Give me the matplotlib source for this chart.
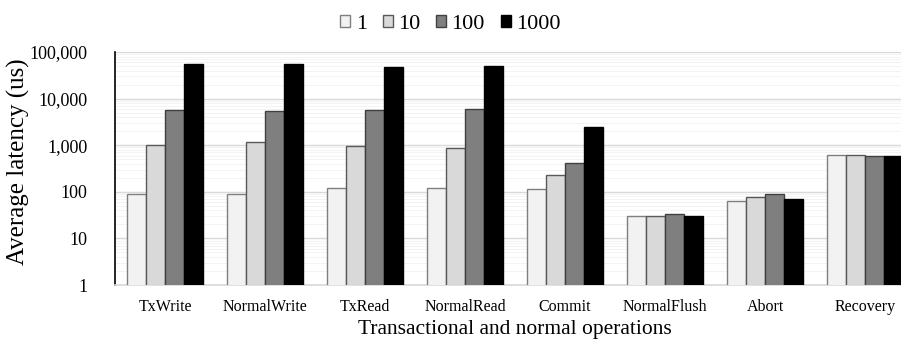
import matplotlib
matplotlib.use("Agg")
import matplotlib.pyplot as plt
import matplotlib.ticker as mticker
import numpy as np

# operations and latency (us) per batch size
operations = ["TxWrite", "NormalWrite", "TxRead", "NormalRead", "Commit",
              "NormalFlush", "Abort", "Recovery"]
series_labels = ["1", "10", "100", "1000"]
lat_1 = [90, 90, 120, 120, 113, 31, 65, 620]
lat_10 = [1000, 1150, 950, 850, 230, 30, 78, 610]
lat_100 = [5700, 5500, 5800, 6000, 408, 33, 88, 590]
lat_1000 = [55000, 54000, 48000, 49000, 2500, 30, 70, 590]
y_ticks = [1, 10, 100, 1000, 10000, 100000]

plt.rcParams['font.family'] = ['Liberation Serif', 'DejaVu Serif']

fig = plt.figure(figsize=(9.01, 3.45), dpi=100)
# plot area runs slightly past the right edge, as in the original
ax = fig.add_axes([115 / 901, 1 - 285 / 345, 800 / 901, 233 / 345])

fills = ["#f2f2f2", "#d9d9d9", "#7f7f7f", "#000000"]
edges = ["#7f7f7f", "#595959", "#404040", "#000000"]
all_series = [lat_1, lat_10, lat_100, lat_1000]

x = np.arange(len(operations))
bw = 0.19
for i, vals in enumerate(all_series):
    ax.bar(x + (i - 1.5) * bw, vals, width=bw, color=fills[i],
           edgecolor=edges[i], linewidth=1.0, label=series_labels[i],
           zorder=3)

ax.set_yscale("log")
ax.set_ylim(1, 100000)
ax.set_xlim(-0.5, len(operations) - 0.5)
ax.yaxis.set_major_locator(mticker.FixedLocator(y_ticks))
ax.yaxis.set_minor_locator(mticker.LogLocator(base=10, subs=np.arange(2, 10), numticks=20))
ax.yaxis.set_major_formatter(mticker.FuncFormatter(lambda v, p: f"{int(round(v)):,}"))
ax.yaxis.set_minor_formatter(mticker.NullFormatter())
ax.set_xticks(x)
ax.set_xticklabels(operations, fontsize=11.5)
ax.tick_params(axis="both", which="both", length=0, colors="#000000")
ax.tick_params(axis="y", which="major", labelsize=13, pad=20)
ax.tick_params(axis="x", pad=10)

ax.grid(True, which="major", axis="y", color="#d9d9d9", linewidth=1.0, zorder=0)
ax.grid(True, which="minor", axis="y", color="#f3f3f3", linewidth=0.7, zorder=0)

for s in ["top", "right"]:
    ax.spines[s].set_visible(False)
ax.spines["left"].set_color("#000000")
ax.spines["left"].set_linewidth(1.2)
ax.spines["bottom"].set_color("#d9d9d9")
ax.spines["bottom"].set_linewidth(1.2)

ax.set_ylabel("Average latency (us)", fontsize=18)
ax.yaxis.set_label_coords(-0.106, 0.53)
ax.set_xlabel("Transactional and normal operations", fontsize=15.5, labelpad=4)

fig.legend(loc="upper center", bbox_to_anchor=(0.5, 1.015), ncol=4,
           frameon=False, fontsize=16, handlelength=0.45, handleheight=0.45,
           handletextpad=0.25, columnspacing=0.7)

fig.savefig("out.png", dpi=100)
